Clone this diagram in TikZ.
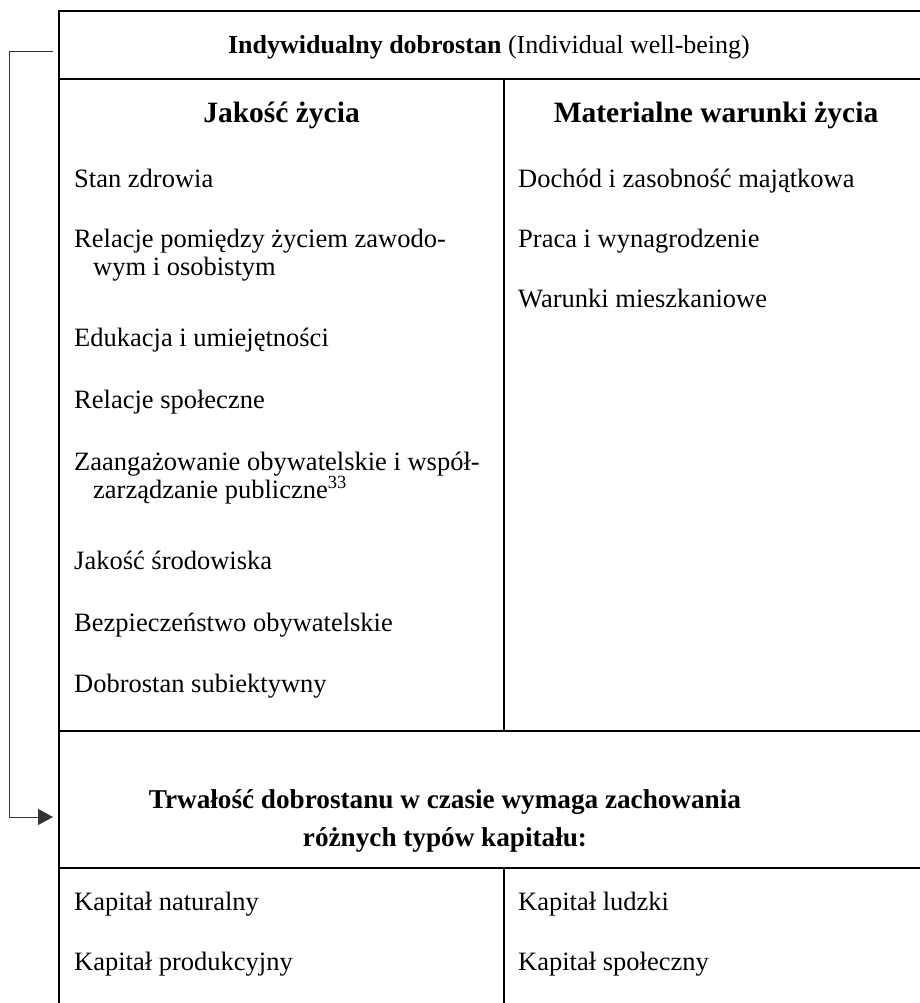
\documentclass[tikz,border=0pt]{standalone}
\usepackage{fontspec}
\setmainfont{Liberation Serif}
\usetikzlibrary{arrows.meta}
\begin{document}
\begin{tikzpicture}[x=1pt,y=-1pt,
  frame/.style={line width=2.5pt,line cap=rect},
  item/.style={anchor=base west,inner sep=0pt,font=\fontsize{26.5}{28}\selectfont},
  head/.style={anchor=base,inner sep=0pt,font=\fontsize{29.5}{33}\selectfont\bfseries},
  title/.style={anchor=base,inner sep=0pt,font=\fontsize{26}{28}\selectfont},
  btitle/.style={anchor=base,inner sep=0pt,font=\fontsize{27.2}{30}\selectfont\bfseries},
  link/.style={line width=1pt,draw=black!80,-{Triangle[length=15pt,width=16pt]}}]
\useasboundingbox (0,0) rectangle (920,1003);
% frame
\draw[frame] (930,11) -- (59,11) -- (59,1010);
\draw[frame] (59,79) -- (930,79);
\draw[frame] (504,79) -- (504,731);
\draw[frame] (59,731) -- (930,731);
\draw[frame] (59,868) -- (930,868);
\draw[frame] (504,868) -- (504,1010);
% header
\node[title] (hdr) at (489,54) {\textbf{Indywidualny dobrostan} (Individual well-being)};
\node[head] (jz) at (281.5,123) {Jakość życia};
\node[head] (mwz) at (716,123) {Materialne warunki życia};
% left column
\node[item] (l1) at (74,187) {Stan zdrowia};
\node[item] (l2a) at (74,247) {Relacje pomiędzy życiem zawodo-};
\node[item] (l2b) at (93,275) {wym i osobistym};
\node[item] (l3) at (74,346) {Edukacja i umiejętności};
\node[item] (l4) at (74,408) {Relacje społeczne};
\node[item] (l5a) at (74,470) {Zaangażowanie obywatelskie i współ-};
\node[item] (l5b) at (93,498) {zarządzanie publiczne\textsuperscript{33}};
\node[item] (l6) at (74,569) {Jakość środowiska};
\node[item] (l7) at (74,631) {Bezpieczeństwo obywatelskie};
\node[item] (l8) at (74,692) {Dobrostan subiektywny};
% right column
\node[item] (r1) at (518,187) {Dochód i zasobność majątkowa};
\node[item] (r2) at (518,247) {Praca i wynagrodzenie};
\node[item] (r3) at (518,307) {Warunki mieszkaniowe};
% bottom title
\node[btitle] (tr1) at (445,808) {Trwałość dobrostanu w czasie wymaga zachowania};
\node[btitle] (tr2) at (445,846) {różnych typów kapitału:};
% bottom items
\node[item] (k1) at (74,910) {Kapitał naturalny};
\node[item] (k2) at (74,970) {Kapitał produkcyjny};
\node[item] (k3) at (518,910) {Kapitał ludzki};
\node[item] (k4) at (518,970) {Kapitał społeczny};
% connector
\coordinate (aS) at (53,52);
\coordinate (aE) at (53,817);
\coordinate (aC) at (9,52);
\draw[link] (aS) -- (aC) |- (aE);
\end{tikzpicture}
\end{document}
